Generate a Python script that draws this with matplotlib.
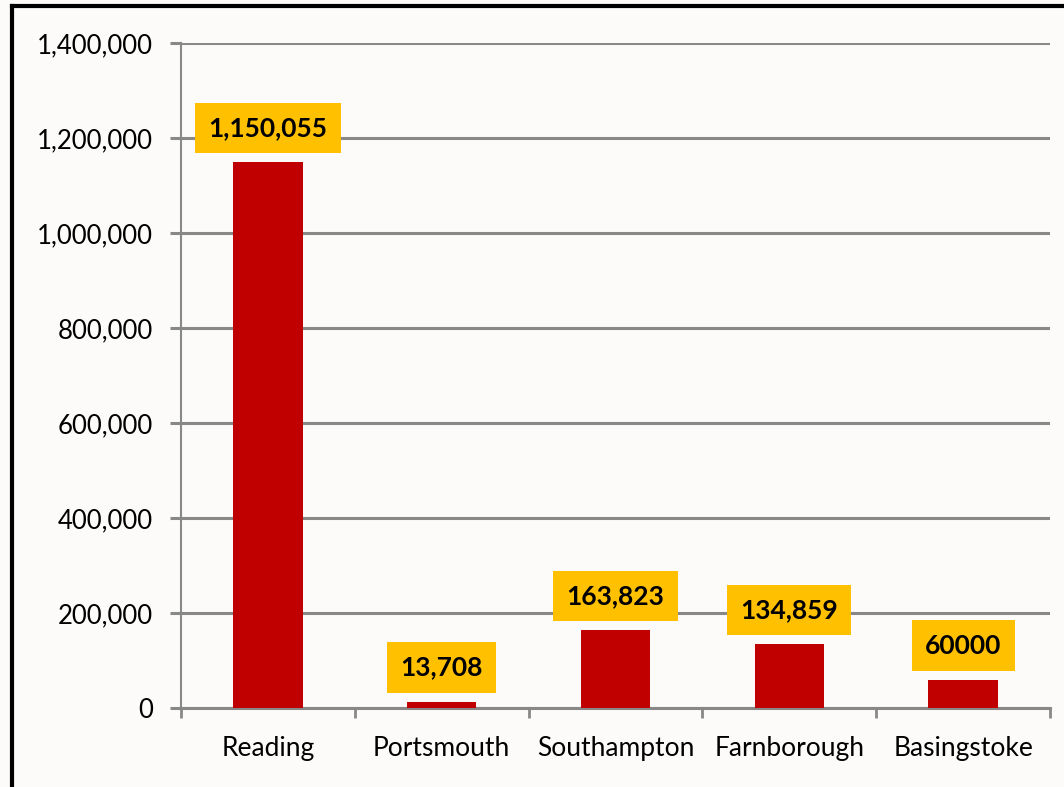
import matplotlib.pyplot as plt
from matplotlib.lines import Line2D
from matplotlib.ticker import FuncFormatter, MultipleLocator

cities = ["Reading", "Portsmouth", "Southampton", "Farnborough", "Basingstoke"]
visitors = [1150055, 13708, 163823, 134859, 60000]
value_labels = ["1,150,055", "13,708", "163,823", "134,859", "60000"]

plt.rcParams["font.family"] = ["Lato", "DejaVu Sans"]

fig = plt.figure(figsize=(10.64, 7.87), dpi=100, facecolor="#fcfbfa")
ax = fig.add_axes([0.170, 0.100, 0.817, 0.845], facecolor="#fcfbfa")

x = range(len(cities))
ax.bar(x, visitors, width=0.4, color="#c00000", zorder=3)

for xi, v, lab in zip(x, visitors, value_labels):
    ax.annotate(lab, (xi, v), xytext=(0, 16), textcoords="offset points",
                ha="center", va="bottom", fontsize=19, fontweight="bold",
                color="black", zorder=4,
                bbox=dict(boxstyle="square,pad=0.5", fc="#ffc000", ec="none"))

grid_c = "#888888"
ax.set_ylim(0, 1400000)
ax.set_xlim(-0.5, len(cities) - 0.5)
ax.yaxis.set_major_locator(MultipleLocator(200000))
ax.yaxis.set_major_formatter(FuncFormatter(lambda v, p: f"{int(v):,}"))
ax.grid(axis="y", color=grid_c, linewidth=2.2, zorder=0)
ax.set_axisbelow(True)

ax.set_xticks([i - 0.5 for i in range(len(cities) + 1)], minor=False)
ax.set_xticklabels([])
ax.set_xticks(list(x), minor=True)
ax.set_xticklabels(cities, minor=True, fontsize=19)
ax.tick_params(axis="x", which="major", length=7, width=2, color=grid_c)
ax.tick_params(axis="x", which="minor", length=0, pad=20)
ax.tick_params(axis="y", length=8, width=2.2, color=grid_c, labelsize=18.5, pad=12)

for side in ["top", "right"]:
    ax.spines[side].set_visible(False)
ax.spines["left"].set_color(grid_c)
ax.spines["left"].set_linewidth(1.5)
ax.spines["bottom"].set_color(grid_c)
ax.spines["bottom"].set_linewidth(2.2)

# outer frame of the original image
fig.add_artist(Line2D([0.0115, 0.0115], [0.0, 0.993], color="black", linewidth=3, transform=fig.transFigure))
fig.add_artist(Line2D([0.0115, 1.0], [0.993, 0.993], color="black", linewidth=3, transform=fig.transFigure))

fig.savefig("out.png", dpi=100, facecolor=fig.get_facecolor())
